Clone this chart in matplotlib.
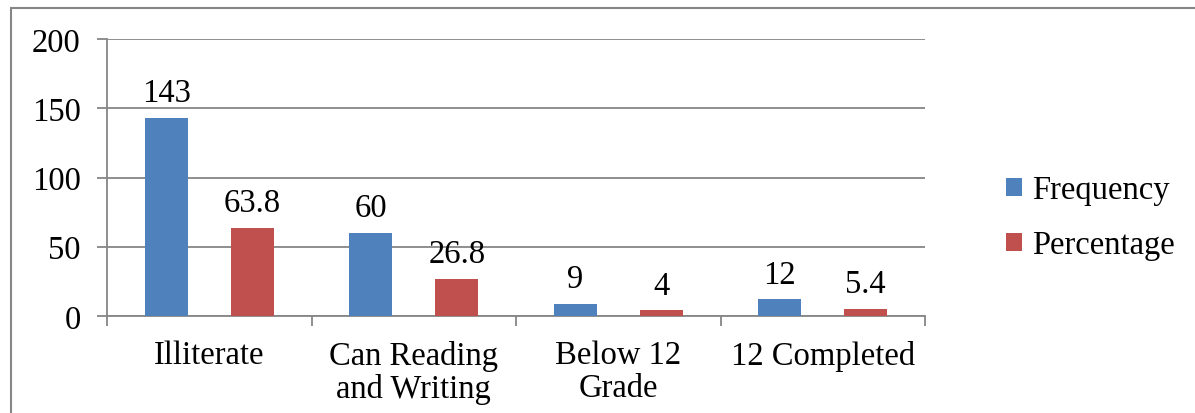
import numpy as np
import matplotlib
matplotlib.use("Agg")
import matplotlib.pyplot as plt
from matplotlib.patches import Rectangle

categories = ["Illiterate", "Can Reading\nand Writing", "Below 12\nGrade", "12 Completed"]
frequency = [143, 60, 9, 12]
percentage = [63.8, 26.8, 4, 5.4]
freq_labels = ["143", "60", "9", "12"]
pct_labels = ["63.8", "26.8", "4", "5.4"]

plt.rcParams['font.family'] = ['Liberation Serif', 'DejaVu Serif']
fs = 23.5
grey = '#868686'

fig = plt.figure(figsize=(11.95, 4.14), dpi=100)
ax = fig.add_axes([107/1195, 1-317/414, (925-107)/1195, (317-40)/414])

x = np.arange(len(categories))
w = 0.21
b1 = ax.bar(x - 0.21, frequency, w, color='#4F81BD', label='Frequency', zorder=3)
b2 = ax.bar(x + 0.21, percentage, w, color='#C0504D', label='Percentage', zorder=3)
ax.bar_label(b1, labels=freq_labels, padding=7, fontsize=fs)
ax.bar_label(b2, labels=pct_labels, padding=7, fontsize=fs)

ax.set_ylim(0, 200)
ax.set_xlim(-0.5, 3.5)
ax.set_yticks([0, 50, 100, 150, 200])
ax.yaxis.grid(True, color=grey, linewidth=1.3, zorder=0)
ax.set_xticks(x)
ax.set_xticklabels(categories, fontsize=fs, linespacing=1.1)
ax.set_xticks(np.arange(-0.5, 4, 1), minor=True)
ax.tick_params(axis='x', which='major', length=0, pad=17)
ax.tick_params(axis='x', which='minor', length=7, width=1.3, color=grey)
ax.tick_params(axis='y', length=7, width=1.3, color=grey, labelsize=fs, pad=12)
for s in ['top', 'right']:
    ax.spines[s].set_visible(False)
for s in ['left', 'bottom']:
    ax.spines[s].set_color(grey)
    ax.spines[s].set_linewidth(1.3)

ax.legend(loc='center left', bbox_to_anchor=(1.063, 0.355), frameon=False, fontsize=fs,
          handlelength=0.5, handleheight=0.5, handletextpad=0.3, labelspacing=0.75)

fig.patches.append(Rectangle((11/1195, -0.05), 1.1, 1-9/414+0.05, transform=fig.transFigure,
                             fill=False, edgecolor=grey, linewidth=1.5))

fig.savefig("out.png", dpi=100)
